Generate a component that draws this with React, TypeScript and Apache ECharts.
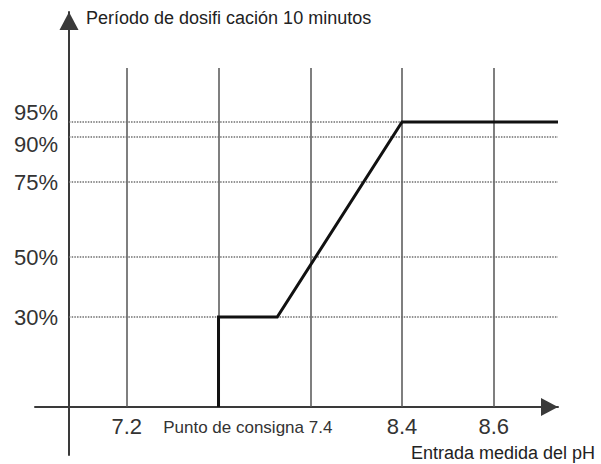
import { useEffect, useRef } from 'react';
import * as echarts from 'echarts';

// Tick positions on the x axis (one step per labelled pH mark) and their labels
const xTickValues = [1, 2, 3, 4, 5];
const xTickLabels = ['7.2', '', 'Punto de consigna 7.4', '8.4', '8.6'];
// Percent ticks on the y axis
const yTickValues = [30, 50, 75, 90, 95];
// Dosing curve (x in pH-mark steps, y in %)
const curveX = [2, 2, 2.64, 4, 5.7];
const curveY = [0, 30, 30, 95, 95];

const titleText = 'Período de dosifi cación 10 minutos';
const xName = 'Entrada medida del pH';

const X_MIN = 0;
const X_MAX = 5.7;
const Y_MIN = -16;
const Y_MAX = 131.67;
const Y_AXIS_AT = 0.37;
const GRID_TOP_VALUE = 113;

export default function App() {
  const ref = useRef<HTMLDivElement>(null);
  useEffect(() => {
    const chart = echarts.init(ref.current as HTMLDivElement, null, { renderer: 'svg' });
    const font = "'Liberation Sans', Arial, Helvetica, sans-serif";
    const vLines = xTickValues.map((v) => [
      { coord: [v, 0], lineStyle: { color: '#555', width: 1.5, type: 'solid' } },
      { coord: [v, GRID_TOP_VALUE] },
    ]);
    const hLines = yTickValues.map((v) => [
      { coord: [Y_AXIS_AT, v], lineStyle: { color: '#6f6f6f', width: 1.6, type: [1.5, 1.2] } },
      { coord: [X_MAX, v] },
    ]);
    chart.setOption({
      animation: false,
      backgroundColor: '#ffffff',
      textStyle: { fontFamily: font },
      title: [
        {
          text: titleText,
          left: 86,
          top: 9,
          padding: 0,
          textStyle: { fontSize: 18, fontWeight: 'normal', color: '#222', fontFamily: font },
        },
        {
          text: xName,
          right: 6,
          top: 444,
          padding: 0,
          textStyle: { fontSize: 18, fontWeight: 'normal', color: '#222', fontFamily: font },
        },
      ],
      grid: { left: 35, right: 43, top: 12, bottom: 9, containLabel: false, outerBoundsMode: 'none' },
      xAxis: {
        type: 'value',
        min: X_MIN,
        max: X_MAX,
        axisLine: {
          show: true,
          onZero: true,
          symbol: ['none', 'triangle'],
          symbolSize: [18, 17],
          symbolOffset: [0, -8.5],
          lineStyle: { color: '#3a3a3a', width: 2 },
        },
        axisTick: { show: false },
        splitLine: { show: false },
        axisLabel: {
          customValues: xTickValues,
          margin: -40,
          fontSize: 22,
          color: '#333',
          fontFamily: font,
          hideOverlap: false,
          formatter: (v: number) => {
            const i = xTickValues.findIndex((t) => Math.abs(t - v) < 1e-6);
            const lab = i >= 0 ? xTickLabels[i] : '';
            if (lab.indexOf('Punto') >= 0) return '{sp|' + lab + '}';
            return lab;
          },
          rich: {
            sp: {
              fontSize: 17,
              fontFamily: font,
              color: '#333',
              padding: [4, 125, 0, 0],
            },
          },
        },
      },
      yAxis: {
        type: 'value',
        min: Y_MIN,
        max: Y_MAX,
        offset: -34,
        axisLine: {
          show: true,
          onZero: false,
          symbol: ['none', 'triangle'],
          symbolSize: [19, 18],
          symbolOffset: [0, -9],
          lineStyle: { color: '#3a3a3a', width: 2 },
        },
        axisTick: { show: false },
        splitLine: { show: false },
        axisLabel: {
          customValues: yTickValues,
          margin: 11,
          fontSize: 22,
          color: '#333',
          fontFamily: font,
          hideOverlap: false,
          formatter: (v: number) => {
            if (v === 95) return '{up|' + v + '%}';
            if (v === 90) return '{dn|' + v + '%}';
            return v + '%';
          },
          rich: {
            up: { fontSize: 22, fontFamily: font, color: '#333', padding: [0, 0, 20, 0] },
            dn: { fontSize: 22, fontFamily: font, color: '#333', padding: [14, 0, 0, 0] },
          },
        },
      },
      series: [
        {
          type: 'line',
          data: [],
          z: 1,
          silent: true,
          markLine: {
            silent: true,
            symbol: ['none', 'none'],
            label: { show: false },
            data: [...vLines, ...hLines],
          },
        },
        {
          type: 'line',
          data: curveX.map((x, i) => [x, curveY[i]]),
          symbol: 'none',
          showSymbol: false,
          clip: false,
          z: 5,
          lineStyle: { color: '#111', width: 3, join: 'miter' },
        },
      ],
    });
    return () => chart.dispose();
  }, []);
  return <div ref={ref} style={{ width: 601, height: 464, position: 'absolute', left: 0, top: 0 }} />;
}
